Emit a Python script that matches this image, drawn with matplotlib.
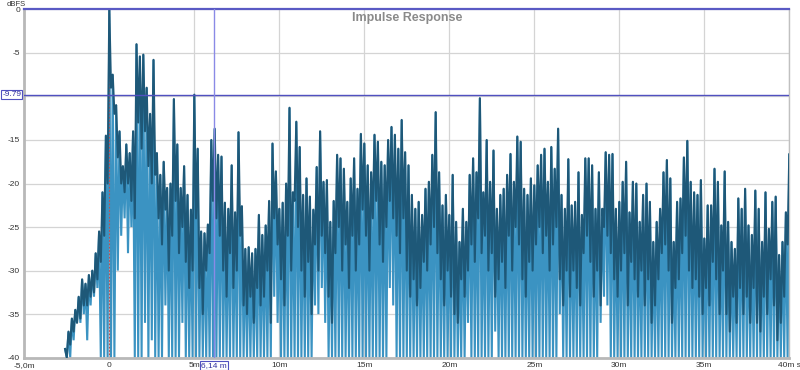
import numpy as np
import matplotlib
matplotlib.use("Agg")
import matplotlib.pyplot as plt
import matplotlib.transforms as mtransforms

# ---------------- data ----------------
t_start_ms = -2.6
t_step_ms = 0.2

# peak level of each 0.2 ms cycle (dBFS), starting at -2.6 ms
peak_db = [
    -39, -37, -35.5, -34.5, -33, -31, -31.5, -30.5, -30, -28, -25.5, -21, -14.5,
    0, -7.5, -11, -14, -18, -15.5, -16.5,
    -14, -4, -5.4, -5.2, -9, -12, -5.8,
    -16.5, -19, -17.5, -20.5, -20, -10.3, -15.5, -20.5, -18, -21.3, -23,
    -9.8, -16, -25.5, -25.7, -24.7,
    -15, -13.7, -16.7, -16.9, -22.2,
    -22.9, -17.9, -23.3, -14.1, -22.6,
    -27.5, -27.3, -28, -27.5, -23.6,
    -25.9, -24.8, -22, -15.4, -18.6,
    -22.9, -22.2, -20, -11.3, -21,
    -12.9, -15.8, -21.3, -19.4, -21.5,
    -23, -18.1, -14, -19.8, -19.6,
    -24.4, -22, -16.7, -17.1, -18.3,
    -22.1, -19.4, -17.1, -20.6, -14.3,
    -15.4, -17.9, -18.7, -14.4, -15.2,
    -17.5, -17.9, -15, -13.5, -14.4,
    -16, -12.7, -16.4, -17.9, -21.3,
    -22.9, -22.1, -23.6, -20.6, -19.8,
    -16.7, -11.8, -18.7, -22.5, -21.3,
    -23.6, -19, -24.4, -26.7, -22.9,
    -24.4, -19, -17.1, -18.7, -10.2,
    -21, -15, -19.8, -16.2, -22.9,
    -21.3, -20.6, -19, -16.6, -19.8,
    -14.6, -15.2, -20.6, -21.3, -19.4,
    -20.2, -17.9, -16.7, -16, -19.8,
    -15.8, -18.3, -13.7, -21.3, -22.9,
    -17.2, -22.5, -22.1, -18.7, -23.6,
    -17.1, -17.1, -17.9, -22.9, -18.7,
    -22.9, -16.4, -16.7, -16.6, -22.9,
    -22.1, -19.8, -17.5, -23.3, -19.8,
    -20, -24.4, -21.3, -20, -22.1,
    -26.7, -24.4, -22.9, -18.7, -17.3,
    -19.4, -26.7, -22.1, -21.7, -17,
    -15.1, -19.8, -21, -21.3, -19.6,
    -26.3, -22.5, -22.5, -18.3, -19.8,
    -24.8, -18.6, -24.4, -26.7, -27.5,
    -21.7, -22.9, -20.6, -24.8, -25.9,
    -20.8, -22.9, -26.7, -21, -25.2,
    -22.1, -21.5, -28.2, -26.7, -23.3,
    -16.6,
]

# low point of the dark trace between peaks (dBFS)
dark_trough_db = [
    -40, -38.5, -37, -36, -35.5, -34, -34, -33, -32.5, -31, -29, -26, -20,
    -9, -12, -17, -20, -21, -20, -22,
    -24, -13, -16, -14, -18, -20, -19,
    -24, -27, -23, -30, -26, -22, -28, -25, -29, -32, -30,
    -24, -32, -35, -30, -28,
    -22, -24, -26, -30, -33,
    -28, -32, -30, -26, -34,
    -35, -33, -36, -32, -34,
    -33, -30, -36, -24, -27,
    -31, -34, -26, -30, -22,
    -25, -30, -33, -29, -35,
    -27, -30, -26, -28, -33,
    -36, -28, -25, -30, -27,
    -32, -26, -30, -27, -23,
    -26, -30, -24, -22, -27,
    -29, -25, -22, -24, -26,
    -28, -24, -30, -33, -31,
    -34, -32, -29, -30, -27,
    -25, -28, -31, -34, -30,
    -33, -35, -36, -31, -33,
    -30, -27, -29, -24, -28,
    -26, -30, -28, -33, -31,
    -29, -32, -26, -30, -25,
    -27, -31, -33, -29, -30,
    -27, -25, -28, -26, -30,
    -27, -25, -31, -34, -30,
    -33, -30, -32, -34, -28,
    -26, -29, -33, -30, -34,
    -25, -26, -28, -31, -33,
    -30, -28, -34, -29, -31,
    -33, -30, -34, -31, -36,
    -34, -31, -28, -27, -30,
    -36, -32, -31, -28, -26,
    -30, -32, -31, -33, -35,
    -32, -34, -29, -31, -35,
    -30, -35, -37, -33, -36,
    -32, -35, -33, -36, -32,
    -36, -37, -33, -35, -31,
    -34, -38, -36, -33, -27,
    -30,
]

# low point of the light trace between peaks (dBFS)
light_trough_db = [
    -40, -40, -38, -36, -36, -35, -38, -34, -33, -32, -40, -40, -40,
    -40, -40, -30, -26, -24, -28, -25,
    -40, -40, -40, -36, -40, -38, -40,
    -40, -40, -34, -40, -40, -40, -40, -36, -40, -40, -40,
    -40, -40, -40, -40, -40,
    -40, -40, -40, -40, -40,
    -40, -40, -40, -40, -40,
    -40, -40, -40, -40, -40,
    -40, -40, -40, -33, -36,
    -40, -40, -40, -40, -40,
    -40, -40, -40, -40, -40,
    -34, -35, -32, -36, -40,
    -40, -40, -40, -40, -40,
    -40, -40, -40, -40, -40,
    -40, -40, -40, -40, -40,
    -40, -40, -32, -34, -40,
    -40, -40, -40, -40, -40,
    -40, -40, -40, -40, -40,
    -40, -40, -40, -40, -40,
    -40, -40, -40, -40, -40,
    -36, -40, -40, -40, -40,
    -40, -40, -40, -37, -40,
    -40, -40, -40, -40, -40,
    -40, -40, -40, -40, -40,
    -40, -40, -40, -40, -40,
    -40, -40, -35, -40, -40,
    -40, -40, -40, -40, -40,
    -40, -40, -40, -40, -36,
    -33, -34, -40, -40, -40,
    -40, -40, -40, -40, -40,
    -40, -40, -40, -40, -40,
    -40, -40, -40, -40, -40,
    -40, -40, -40, -40, -40,
    -40, -40, -40, -40, -40,
    -40, -40, -40, -40, -40,
    -40, -40, -40, -40, -40,
    -40, -40, -40, -40, -40,
    -40, -40, -40, -40, -40,
    -40, -40, -40, -40, -40,
    -40,
]

x_ticks = [-5, 0, 5, 10, 15, 20, 25, 30, 35, 40]
x_tick_labels = ["-5,0m", "0", "5m", "10m", "15m", "20m", "25m", "30m", "35m", "40m s"]
y_ticks = [0, -5, -10, -15, -20, -25, -30, -35, -40]
y_tick_labels = ["0", "-5", "", "-15", "-20", "-25", "-30", "-35", "-40"]
marker_level_db = -9.79
cursor_ms = 6.14

# ---------------- build traces ----------------
n = min(len(peak_db), len(dark_trough_db), len(light_trough_db))
t_peak = t_start_ms + t_step_ms * np.arange(n)
t_trough = t_peak + t_step_ms / 2
t = np.empty(2 * n)
t[0::2] = t_peak
t[1::2] = t_trough
dark = np.empty(2 * n)
dark[0::2] = peak_db[:n]
dark[1::2] = dark_trough_db[:n]
light = np.empty(2 * n)
light[0::2] = peak_db[:n]
light[1::2] = light_trough_db[:n]

# ---------------- figure ----------------
plt.rcParams["font.family"] = ["Liberation Sans", "DejaVu Sans"]
fig = plt.figure(figsize=(8, 3.7), dpi=100)
ax = fig.add_axes([24.3 / 800, 12.3 / 370, 765 / 800, 348.4 / 370])

ax.set_xlim(-5, 40)
ax.set_ylim(-40, 0)

ax.set_xticks(x_ticks)
ax.set_xticklabels(x_tick_labels)
ax.set_yticks(y_ticks)
ax.set_yticklabels(y_tick_labels)
ax.tick_params(axis="both", length=0, labelsize=6, colors="#333333")
ax.tick_params(axis="x", pad=3)
ax.tick_params(axis="y", pad=3)
ax.grid(True, color="#d4d4d4", linewidth=0.9, zorder=0)
ax.set_axisbelow(True)

for side in ("left", "bottom"):
    ax.spines[side].set_color("#b8b8b8")
    ax.spines[side].set_linewidth(2.0)
ax.spines["right"].set_color("#c0c0c0")
ax.spines["right"].set_linewidth(1.0)
ax.spines["top"].set_visible(False)

ax.plot(t, light, color="#3b93c2", linewidth=1.5, zorder=2, solid_joinstyle="miter")
ax.axvline(0, color="#c05050", linestyle=(0, (1.5, 1.5)), linewidth=0.8, zorder=2.5)
ax.plot(t, dark, color="#1e5878", linewidth=1.5, zorder=3)

# markers
ax.axhline(0, color="#5a5ac4", linewidth=1.6, zorder=4, clip_on=False)
ax.axhline(marker_level_db, color="#5050c0", linewidth=1.0, zorder=4)
ax.axvline(cursor_ms, color="#8a8ae6", linewidth=1.0, zorder=4)

blend_y = mtransforms.blended_transform_factory(ax.transAxes, ax.transData)
ax.text(-0.004, marker_level_db, f"{marker_level_db:.2f}", transform=blend_y,
        ha="right", va="center", fontsize=6, color="#3030a0", zorder=6,
        bbox=dict(boxstyle="square,pad=0.12", facecolor="white",
                  edgecolor="#5050c0", linewidth=0.8), clip_on=False)

blend_x = mtransforms.blended_transform_factory(ax.transData, ax.transAxes)
ax.text(cursor_ms, -0.012, f"{cursor_ms:.2f}".replace(".", ",") + " m",
        transform=blend_x, ha="center", va="top", fontsize=6, color="#3030a0",
        zorder=6, bbox=dict(boxstyle="square,pad=0.12", facecolor="white",
                            edgecolor="#5050c0", linewidth=0.8), clip_on=False)

fig.text(0.008, 0.997, "dBFS", ha="left", va="top", fontsize=5.5, color="#333333")

ax.text(0.5, 0.992, "Impulse Response", transform=ax.transAxes, ha="center",
        va="top", fontsize=9, fontweight="bold", color="#8a8a8a", zorder=7)

fig.savefig("out.png", dpi=100)
